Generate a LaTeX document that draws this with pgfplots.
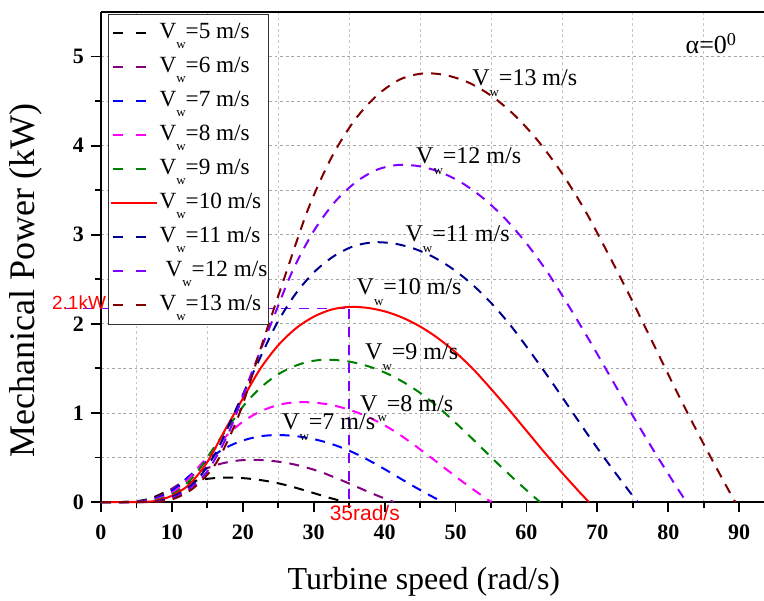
\documentclass[border=0pt]{standalone}
\usepackage{fontspec}
\setmainfont{Liberation Serif}
\newfontfamily\arial{Liberation Sans}
\usepackage{pgfplots}
\pgfplotsset{compat=1.18}
\definecolor{cfive}{HTML}{000000}
\definecolor{csix}{HTML}{800080}
\definecolor{cseven}{HTML}{0000FF}
\definecolor{ceight}{HTML}{FF00FF}
\definecolor{cnine}{HTML}{008000}
\definecolor{cten}{HTML}{FF0000}
\definecolor{celeven}{HTML}{000090}
\definecolor{ctwelve}{HTML}{8000FF}
\definecolor{cthirteen}{HTML}{800000}
\newcommand\Vw{V\raisebox{-0.45em}{\fontsize{6.5}{6.5}\selectfont w}}
\pgfplotsset{solidlegend/.style={legend image code/.code={\draw[##1] (0pt,0pt) -- (23pt,0pt);}}}
\begin{document}
\begin{tikzpicture}
\begin{axis}[name=ax,
  scale only axis, width=331.5pt, height=245pt,
  xmin=0, xmax=93.5, ymin=0, ymax=5.5,
  axis lines=left, axis line style={-, line width=1.2pt},
  tick align=outside, tick style={black, line width=0.9pt},
  major tick length=5pt, minor tick length=3pt,
  xtick={0,10,...,90}, minor xtick={5,15,...,85},
  ytick={0,1,...,5}, minor ytick={0.5,1.5,...,4.5},
  xminorgrids=true, ymajorgrids=true, yminorgrids=true,
  grid style={gray!70, line width=0.4pt, dash pattern=on 1.4pt off 1.4pt},
  every minor x grid/.style={gray!45},
  tick label style={font=\fontsize{11}{13}\selectfont\bfseries},
  xticklabel style={yshift=-3pt},
  /pgf/number format/assume math mode=true,
  xlabel={Turbine speed (rad/s)}, ylabel={Mechanical Power (kW)},
  xlabel style={font=\fontsize{16}{18}\selectfont, at={(axis description cs:0.487,-0.163)}, anchor=center},
  ylabel style={font=\fontsize{18}{20}\selectfont, at={(axis description cs:-0.114,0.452)}, anchor=center},
  legend style={at={(rel axis cs:0.0106,0.996)}, anchor=north west, draw=black!80, line width=0.5pt, fill=white,
    font=\fontsize{11.6}{14}\selectfont, inner xsep=0.5pt, inner ysep=3pt, row sep=4pt, /tikz/column sep=0pt,
    nodes={inner xsep=0pt, inner ysep=0pt, text height=9pt, text depth=4pt}},
  legend cell align=left,
  legend image code/.code={\draw[#1, dash pattern=on 5pt off 6.7pt] (1pt,0pt) -- (17.7pt,0pt); \path (24pt,0pt);},
  clip=false,
]
% annotation lines
\addplot[ctwelve, line width=0.8pt, dash pattern=on 5pt off 4pt, forget plot] coordinates {(-5.1,2.17) (35,2.17)};
\addplot[ctwelve, line width=0.8pt, dash pattern=on 5pt off 4pt, forget plot] coordinates {(35,2.17) (35,0)};

\addplot[cfive, line width=1pt, dash pattern=on 5pt off 4pt, smooth] coordinates {
(0,0) (2.5,0) (3.75,0.001) (5,0.009) (6.25,0.025) (7.5,0.056) (8.75,0.101) (10,0.145) (11.25,0.188) (12.5,0.22) (13.75,0.244) (15,0.26) (16.25,0.27) (17.5,0.274) (18.75,0.273) (20,0.268) (21.25,0.259) (22.5,0.246) (23.75,0.23) (25,0.21) (26.25,0.186) (27.5,0.159) (28.75,0.13) (30,0.1) (31.25,0.07) (32.5,0.041) (33.75,0.014) (34.4,0)};
\addlegendentry{\Vw=5 m/s}

\addplot[csix, line width=1pt, dash pattern=on 5pt off 4pt, smooth] coordinates {
(0,0) (3,0) (4.5,0.002) (6,0.015) (7.5,0.043) (9,0.097) (10.5,0.175) (12,0.251) (13.5,0.324) (15,0.380) (16.5,0.421) (18,0.449) (19.5,0.467) (21,0.473) (22.5,0.471) (24,0.462) (25.5,0.447) (27,0.426) (28.5,0.397) (30,0.363) (31.5,0.322) (33,0.274) (34.5,0.225) (36,0.173) (37.5,0.121) (39,0.071) (40.5,0.024) (41.28,0)};
\addlegendentry{\Vw=6 m/s}

\addplot[cseven, line width=1pt, dash pattern=on 5pt off 4pt, smooth] coordinates {
(0,0) (3.5,0) (5.25,0.003) (7,0.024) (8.75,0.069) (10.5,0.154) (12.25,0.278) (14,0.398) (15.75,0.515) (17.5,0.604) (19.25,0.669) (21,0.713) (22.75,0.741) (24.5,0.751) (26.25,0.748) (28,0.734) (29.75,0.710) (31.5,0.676) (33.25,0.631) (35,0.576) (36.75,0.511) (38.5,0.436) (40.25,0.357) (42,0.274) (43.75,0.192) (45.5,0.113) (47.25,0.038) (48.16,0)};
\addlegendentry{\Vw=7 m/s}

\addplot[ceight, line width=1pt, dash pattern=on 5pt off 4pt, smooth] coordinates {
(0,0) (4,0) (6,0.005) (8,0.036) (10,0.102) (12,0.230) (14,0.415) (16,0.594) (18,0.768) (20,0.901) (22,0.998) (24,1.065) (26,1.106) (28,1.121) (30,1.116) (32,1.096) (34,1.060) (36,1.009) (38,0.942) (40,0.860) (42,0.763) (44,0.650) (46,0.532) (48,0.410) (50,0.287) (52,0.169) (54,0.056) (55.04,0)};
\addlegendentry{\Vw=8 m/s}

\addplot[cnine, line width=1pt, dash pattern=on 5pt off 4pt, smooth] coordinates {
(0,0) (4.5,0) (6.75,0.007) (9,0.051) (11.25,0.146) (13.5,0.328) (15.75,0.590) (18,0.846) (20.25,1.094) (22.5,1.283) (24.75,1.422) (27,1.516) (29.25,1.575) (31.5,1.597) (33.75,1.589) (36,1.560) (38.25,1.509) (40.5,1.436) (42.75,1.341) (45,1.225) (47.25,1.086) (49.5,0.926) (51.75,0.758) (54,0.583) (56.25,0.408) (58.5,0.241) (60.75,0.080) (61.92,0)};
\addlegendentry{\Vw=9 m/s}

\addplot[cten, line width=1pt, smooth, solidlegend] coordinates {
(0,0) (5,0) (7.5,0.01) (10,0.07) (12.5,0.20) (15,0.45) (17.5,0.81) (20,1.16) (22.5,1.50) (25,1.76) (27.5,1.95) (30,2.08) (32.5,2.16) (35,2.19) (37.5,2.18) (40,2.14) (42.5,2.07) (45,1.97) (47.5,1.84) (50,1.68) (52.5,1.49) (55,1.27) (57.5,1.04) (60,0.80) (62.5,0.56) (65,0.33) (67.5,0.11) (68.8,0)};
\addlegendentry{\Vw=10 m/s}

\addplot[celeven, line width=1pt, dash pattern=on 5pt off 4pt, smooth] coordinates {
(0,0) (5.5,0) (8.25,0.013) (11,0.093) (13.75,0.266) (16.5,0.599) (19.25,1.078) (22,1.544) (24.75,1.997) (27.5,2.343) (30.25,2.595) (33,2.768) (35.75,2.875) (38.5,2.915) (41.25,2.902) (44,2.848) (46.75,2.755) (49.5,2.622) (52.25,2.449) (55,2.236) (57.75,1.983) (60.5,1.690) (63.25,1.384) (66,1.065) (68.75,0.745) (71.5,0.439) (74.25,0.146) (75.68,0)};
\addlegendentry{\Vw=11 m/s}

\addplot[ctwelve, line width=1pt, dash pattern=on 5pt off 4pt, smooth] coordinates {
(0,0) (6,0) (9,0.017) (12,0.121) (15,0.346) (18,0.778) (21,1.400) (24,2.004) (27,2.592) (30,3.041) (33,3.370) (36,3.594) (39,3.732) (42,3.784) (45,3.767) (48,3.698) (51,3.577) (54,3.404) (57,3.180) (60,2.903) (63,2.575) (66,2.195) (69,1.797) (72,1.382) (75,0.968) (78,0.570) (81,0.190) (82.56,0)};
\addlegendentry{\hspace{3pt}\Vw=12 m/s}

\addplot[cthirteen, line width=1pt, dash pattern=on 5pt off 4pt, smooth] coordinates {
(0,0) (6.5,0) (9.75,0.022) (13,0.154) (16.25,0.439) (19.5,0.989) (22.75,1.780) (26,2.549) (29.25,3.296) (32.5,3.867) (35.75,4.284) (39,4.570) (42.25,4.746) (45.5,4.811) (48.75,4.789) (52,4.702) (55.25,4.548) (58.5,4.328) (61.75,4.042) (65,3.691) (68.25,3.274) (71.5,2.790) (74.75,2.285) (78,1.758) (81.25,1.230) (84.5,0.725) (87.75,0.242) (89.44,0)};
\addlegendentry{\Vw=13 m/s}

\draw[line width=1.2pt] (rel axis cs:0,1) -- (rel axis cs:1,1);

\node[font=\arial\fontsize{9.5}{11}\selectfont, text=red, inner sep=0pt] at (axis cs:-3.1,2.24) {2.1kW};
\node[font=\arial\fontsize{10.5}{12}\selectfont, text=red, inner sep=0pt] at (axis cs:37.2,-0.125) {35rad/s};

\begin{scope}[every node/.style={anchor=base west, font=\fontsize{12}{14}\selectfont, inner sep=0pt}]
\node at (axis cs:52.3,4.67) {\Vw=13 m/s};
\node at (axis cs:44.4,3.80) {\Vw=12 m/s};
\node at (axis cs:42.9,2.92) {\Vw=11 m/s};
\node at (axis cs:36.0,2.33) {\Vw=10 m/s};
\node at (axis cs:37.2,1.60) {\Vw=9 m/s};
\node at (axis cs:36.5,1.02) {\Vw=8 m/s};
\node at (axis cs:25.5,0.81) {\Vw=7 m/s};
\node[font=\fontsize{13}{15}\selectfont] at (axis cs:82.4,5.03) {α=0\textsuperscript{0}};
\end{scope}
\end{axis}
\pgfresetboundingbox
\path[use as bounding box] ([xshift=-50.5pt,yshift=-49pt]ax.south west) rectangle ([yshift=6pt]ax.north east);
\end{tikzpicture}
\end{document}
